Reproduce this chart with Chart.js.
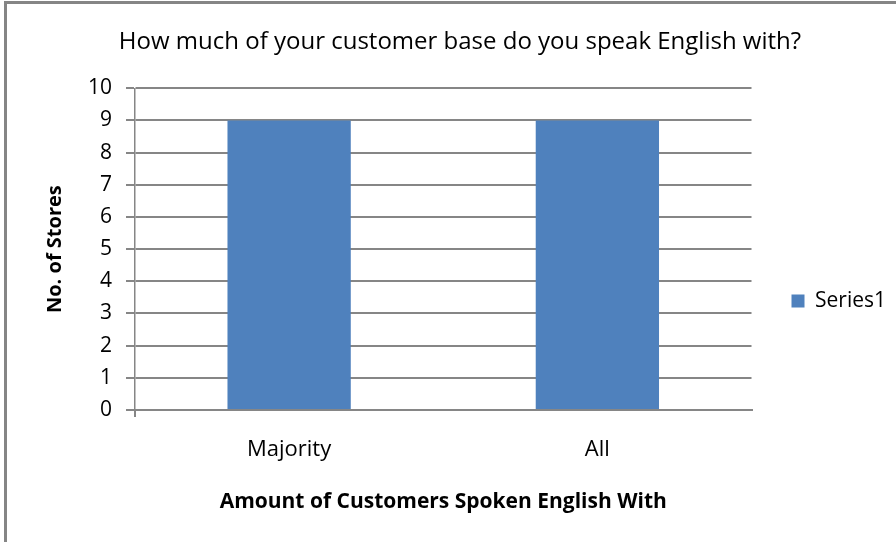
<!DOCTYPE html>
<html>
<head>
<meta charset="utf-8">
<script src="https://cdn.jsdelivr.net/npm/chart.js@4"></script>
<style>
  body { margin: 0; background: #fff; }
  .frame {
    position: absolute; left: 4px; top: 1px; width: 900px; height: 560px;
    border-left: 3px solid #858585; border-top: 3px solid #858585;
  }
  #chart { position: absolute; left: 0; top: 0; }
</style>
</head>
<body>
<div class="frame"></div>
<canvas id="chart" width="896" height="542"></canvas>
<script>
// chart data
const categories = ['Majority', 'All'];
const seriesName = 'Series1';
const storeCounts = [9, 9];
const yTicks = [0, 1, 2, 3, 4, 5, 6, 7, 8, 9, 10];

const gridGray = '#868686';
const barBlue = '#4F81BD';
const fontFamily = '"Open Sans", Lato, sans-serif';
const padLeft = 24;

new Chart(document.getElementById('chart'), {
    type: 'bar',
    data: {
        labels: categories,
        datasets: [{
            label: seriesName,
            data: storeCounts,
            backgroundColor: barBlue,
            borderWidth: 0,
            categoryPercentage: 0.8,
            barPercentage: 0.5
        }]
    },
    options: {
        responsive: false,
        animation: false,
        layout: {
            padding: { left: padLeft, right: 0, top: 0, bottom: 0 }
        },
        plugins: {
            title: {
                display: true,
                text: 'How much of your customer base do you speak English with?',
                color: '#000',
                font: { family: fontFamily, size: 24, weight: 'normal' },
                padding: { top: 28, bottom: 31.5 }
            },
            legend: {
                position: 'right',
                maxWidth: 146,
                title: {
                    display: true,
                    text: '',
                    font: { size: 1 },
                    padding: { top: 0, bottom: 58.8 }
                },
                labels: {
                    boxWidth: 13,
                    boxHeight: 13,
                    padding: 40,
                    color: '#000',
                    font: { family: fontFamily, size: 21 }
                }
            },
            tooltip: { enabled: false }
        },
        scales: {
            x: {
                afterFit: s => { s.height = 132; },
                grid: {
                    offset: true,
                    drawOnChartArea: false,
                    tickLength: 7,
                    lineWidth: 2,
                    color: c => (c.index === 0 || c.index === categories.length) ? gridGray : 'rgba(0,0,0,0)'
                },
                border: { color: gridGray, width: 2 },
                ticks: {
                    color: '#000',
                    padding: 20,
                    font: { family: fontFamily, size: 22 }
                },
                title: {
                    display: true,
                    text: 'Amount of Customers Spoken English With',
                    color: '#000',
                    font: { family: fontFamily, size: 21, weight: 'bold' },
                    padding: { top: 0, bottom: 27 }
                }
            },
            y: {
                min: 0,
                max: 10,
                afterFit: s => { s.width = 135 - padLeft; },
                afterBuildTicks: s => { s.ticks = yTicks.map(v => ({ value: v })); },
                grid: {
                    color: gridGray,
                    lineWidth: 2,
                    tickLength: 9
                },
                border: { color: gridGray, width: 1.5 },
                ticks: {
                    color: '#000',
                    padding: 14,
                    font: { family: fontFamily, size: 21 }
                },
                title: {
                    display: true,
                    text: 'No. of Stores',
                    color: '#000',
                    font: { family: fontFamily, size: 20, weight: 'bold' },
                    padding: { top: 19, bottom: 0 }
                }
            }
        }
    }
});
</script>
</body>
</html>
